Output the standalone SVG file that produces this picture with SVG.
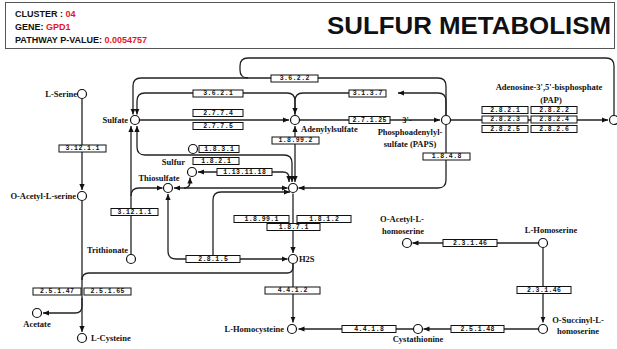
<svg xmlns="http://www.w3.org/2000/svg" width="617" height="349" viewBox="0 0 617 349">
<defs>
<marker id="ah" viewBox="0 0 6 6" refX="6" refY="3" markerWidth="6" markerHeight="6" markerUnits="userSpaceOnUse" orient="auto-start-reverse"><path d="M0,0.4 L6,3 L0,5.6 z" fill="#111"/></marker>
</defs>
<style>
.hdr{font-family:"Liberation Sans",Arial,sans-serif;font-weight:bold;font-size:9px;fill:#111}
.red{fill:#e8141c}
.title{font-family:"Liberation Sans",Arial,sans-serif;font-weight:bold;font-size:24px;fill:#111}
.n circle{fill:#fff;stroke:#111;stroke-width:1.2}
.lbl{font-family:"Liberation Serif","Times New Roman",serif;font-weight:bold;font-size:8.5px;fill:#111}
.e rect{fill:#fff;stroke:#111;stroke-width:1}
.e text{font-family:"Liberation Mono","Courier New",monospace;font-size:6.5px;font-weight:bold;letter-spacing:0.4px;text-anchor:middle;fill:#111}
.c path{fill:none;stroke:#222;stroke-width:1.3}
.a{marker-end:url(#ah)}
.b{marker-start:url(#ah);marker-end:url(#ah)}
</style>
<rect width="617" height="349" fill="#fff"/>
<g id="header">
<rect x="5.5" y="2.5" width="609" height="46" fill="none" stroke="#555" stroke-width="1"/>
<text class="hdr" x="15" y="17">CLUSTER : <tspan class="red">04</tspan></text>
<text class="hdr" x="15" y="30">GENE:  <tspan class="red">GPD1</tspan></text>
<text class="hdr" x="15" y="43">PATHWAY P-VALUE:  <tspan class="red">0.0054757</tspan></text>
<text class="title" x="327" y="34" textLength="284" lengthAdjust="spacingAndGlyphs">SULFUR METABOLISM</text>
</g>
<g id="connectors" class="c">
<path class="a" d="M82,99 V190"/>
<path class="a" d="M82,201 V332"/>
<path class="a" d="M82,298 V306 Q82,313 75,313 H43"/>
<path d="M293,264 V267 Q293,273 287,273 H89 Q82,273 82,280"/>
<path class="a" d="M293,264 V322.5"/>
<path class="a" d="M413,329 H298.5"/>
<path class="a" d="M538,329 H423.5"/>
<path class="a" d="M543,248 V322.5"/>
<path class="a" d="M538,243 H412.5"/>
<path class="a" d="M140,120 H289"/>
<path class="a" d="M300,120 H440"/>
<path class="a" d="M451,120 H608"/>
<path class="a" d="M446,115 V86 Q446,78 438,78 H141 Q133,78 133,86 V114.5"/>
<path d="M614,115 V66 Q614,58 606,58 H248 Q240,58 240,66 V70 Q240,78 248,78"/>
<path class="a" d="M295,115 V101 Q295,93 287,93 H145 Q137,93 137,101 V114.5"/>
<path class="a" d="M446,115 V101 Q446,93 438,93 H398"/>
<path class="a" d="M349,93 H303 Q295,93 295,101 V114"/>
<path class="b" d="M295,126 V182"/>
<path class="b" d="M137,126 V147 Q137,155 145,155 H284 Q292,155 292,163 V182"/>
<path class="b" d="M198,172 H283 Q289,172 289,178 V182"/>
<path class="b" d="M174,188 H287.5"/>
<path class="a" d="M184,188 Q190,188 190,182 V177.5"/>
<path class="a" d="M131,254 V126"/>
<path class="a" d="M131,196 Q131,188 139,188 H162.5"/>
<path class="b" d="M168,194 V251 Q168,259 176,259 H287.5"/>
<path class="a" d="M213,259 V200 Q213,192 221,192 H290"/>
<path class="a" d="M293,193.5 V253"/>
<path class="a" d="M446,125 V180 Q446,188 438,188 H298.5"/>
</g>
<g id="e-3.12.1.1-a" class="e"><rect x="59" y="145" width="47" height="7"/><text x="82.7" y="150.3">3.12.1.1</text></g>
<g id="e-3.6.2.2" class="e"><rect x="271" y="75" width="47" height="7"/><text x="294.7" y="80.3">3.6.2.2</text></g>
<g id="e-3.6.2.1" class="e"><rect x="193" y="90" width="50" height="7"/><text x="218.2" y="95.3">3.6.2.1</text></g>
<g id="e-2.7.7.4" class="e"><rect x="193" y="109.5" width="50" height="7"/><text x="218.2" y="114.8">2.7.7.4</text></g>
<g id="e-2.7.7.5" class="e"><rect x="193" y="122.5" width="50" height="7"/><text x="218.2" y="127.8">2.7.7.5</text></g>
<g id="e-3.1.3.7" class="e"><rect x="349" y="90" width="37" height="7"/><text x="367.7" y="95.3">3.1.3.7</text></g>
<g id="e-2.7.1.25" class="e"><rect x="349" y="116.5" width="41" height="7"/><text x="369.7" y="121.8">2.7.1.25</text></g>
<g id="e-1.8.99.2" class="e"><rect x="272" y="137" width="47" height="7"/><text x="295.7" y="142.3">1.8.99.2</text></g>
<g id="e-1.8.3.1" class="e"><rect x="199" y="145.5" width="40" height="7"/><text x="219.2" y="150.8">1.8.3.1</text></g>
<g id="e-1.8.2.1" class="e"><rect x="193" y="157.5" width="46" height="7"/><text x="216.2" y="162.8">1.8.2.1</text></g>
<g id="e-1.13.11.18" class="e"><rect x="217" y="168.5" width="55" height="7"/><text x="244.7" y="173.8">1.13.11.18</text></g>
<g id="e-2.8.2.1" class="e"><rect x="482" y="106.5" width="46" height="7"/><text x="505.2" y="111.8">2.8.2.1</text></g>
<g id="e-2.8.2.2" class="e"><rect x="531" y="106.5" width="46" height="7"/><text x="554.2" y="111.8">2.8.2.2</text></g>
<g id="e-2.8.2.3" class="e"><rect x="482" y="116" width="46" height="7"/><text x="505.2" y="121.3">2.8.2.3</text></g>
<g id="e-2.8.2.4" class="e"><rect x="531" y="116" width="46" height="7"/><text x="554.2" y="121.3">2.8.2.4</text></g>
<g id="e-2.8.2.5" class="e"><rect x="482" y="125.5" width="46" height="7"/><text x="505.2" y="130.8">2.8.2.5</text></g>
<g id="e-2.8.2.6" class="e"><rect x="531" y="125.5" width="46" height="7"/><text x="554.2" y="130.8">2.8.2.6</text></g>
<g id="e-1.8.4.8" class="e"><rect x="423" y="153" width="47" height="7"/><text x="446.7" y="158.3">1.8.4.8</text></g>
<g id="e-3.12.1.1-b" class="e"><rect x="111" y="208.5" width="47" height="7"/><text x="134.7" y="213.8">3.12.1.1</text></g>
<g id="e-1.8.99.1" class="e"><rect x="234" y="215.5" width="55" height="7"/><text x="261.7" y="220.8">1.8.99.1</text></g>
<g id="e-1.8.1.2" class="e"><rect x="297" y="215.5" width="54" height="7"/><text x="324.2" y="220.8">1.8.1.2</text></g>
<g id="e-1.8.7.1" class="e"><rect x="267" y="223.5" width="53" height="7"/><text x="293.7" y="228.8">1.8.7.1</text></g>
<g id="e-2.8.1.5" class="e"><rect x="186" y="255.5" width="54" height="7"/><text x="213.2" y="260.8">2.8.1.5</text></g>
<g id="e-2.5.1.47" class="e"><rect x="33" y="288" width="48" height="7"/><text x="57.2" y="293.3">2.5.1.47</text></g>
<g id="e-2.5.1.65" class="e"><rect x="84" y="288" width="47" height="7"/><text x="107.7" y="293.3">2.5.1.65</text></g>
<g id="e-4.4.1.2" class="e"><rect x="265" y="287" width="55" height="7"/><text x="292.7" y="292.3">4.4.1.2</text></g>
<g id="e-4.4.1.8" class="e"><rect x="342" y="325.5" width="54" height="7"/><text x="369.2" y="330.8">4.4.1.8</text></g>
<g id="e-2.5.1.48" class="e"><rect x="451" y="325.5" width="53" height="7"/><text x="477.7" y="330.8">2.5.1.48</text></g>
<g id="e-2.3.1.46-a" class="e"><rect x="443" y="239.5" width="54" height="7"/><text x="470.2" y="244.8">2.3.1.46</text></g>
<g id="e-2.3.1.46-b" class="e"><rect x="517" y="286.5" width="54" height="7"/><text x="544.2" y="291.8">2.3.1.46</text></g>
<g id="n-lserine" class="n"><circle cx="82" cy="94" r="4.5"/><text class="lbl" x="77" y="97" text-anchor="end">L-Serine</text></g>
<g id="n-sulfate" class="n"><circle cx="135" cy="120" r="4.5"/><text class="lbl" x="128" y="123" text-anchor="end">Sulfate</text></g>
<g id="n-aps" class="n"><circle cx="295" cy="120" r="4.5"/><text class="lbl" x="301" y="132">Adenylylsulfate</text></g>
<g id="n-paps" class="n"><circle cx="446" cy="120" r="4.5"/><text class="lbl" text-anchor="middle"><tspan x="407" y="123">3'-</tspan><tspan x="410" y="135">Phosphoadenylyl-</tspan><tspan x="410" y="147">sulfate (PAPS)</tspan></text></g>
<g id="n-pap" class="n"><circle cx="614" cy="120" r="4.5"/><text class="lbl" text-anchor="middle"><tspan x="549" y="90">Adenosine-3',5'-bisphosphate</tspan><tspan x="551" y="103">(PAP)</tspan></text></g>
<g id="n-oas" class="n"><circle cx="82" cy="196" r="4.5"/><text class="lbl" x="76" y="199" text-anchor="end">O-Acetyl-L-serine</text></g>
<g id="n-sulfur" class="n"><circle cx="192" cy="172" r="4.5"/><text class="lbl" x="185" y="165" text-anchor="end">Sulfur</text></g>
<g id="n-thiosulfate" class="n"><circle cx="168" cy="188" r="4.5"/><text class="lbl" x="159" y="181" text-anchor="middle">Thiosulfate</text></g>
<g id="n-sulfite" class="n"><circle cx="293" cy="188" r="4.5"/></g>
<g id="n-c1831" class="n"><circle cx="193" cy="149" r="4.5"/></g>
<g id="n-trithionate" class="n"><circle cx="131" cy="259" r="4.5"/><text class="lbl" x="128" y="253" text-anchor="end">Trithionate</text></g>
<g id="n-h2s" class="n"><circle cx="293" cy="259" r="4.5"/><text class="lbl" x="299" y="262">H2S</text></g>
<g id="n-acetate" class="n"><circle cx="37" cy="313" r="4.5"/><text class="lbl" x="37" y="327" text-anchor="middle">Acetate</text></g>
<g id="n-lcys" class="n"><circle cx="82" cy="338" r="4.5"/><text class="lbl" x="91" y="341">L-Cysteine</text></g>
<g id="n-lhcy" class="n"><circle cx="292" cy="329" r="4.5"/><text class="lbl" x="284" y="332" text-anchor="end">L-Homocysteine</text></g>
<g id="n-cysta" class="n"><circle cx="418" cy="329" r="4.5"/><text class="lbl" x="418" y="342" text-anchor="middle">Cystathionine</text></g>
<g id="n-osh" class="n"><circle cx="543" cy="329" r="4.5"/><text class="lbl" text-anchor="middle"><tspan x="578" y="323">O-Succinyl-L-</tspan><tspan x="578" y="334">homoserine</tspan></text></g>
<g id="n-lhser" class="n"><circle cx="543" cy="243" r="4.5"/><text class="lbl" x="551" y="233" text-anchor="middle">L-Homoserine</text></g>
<g id="n-oah" class="n"><circle cx="407" cy="243" r="4.5"/><text class="lbl" text-anchor="middle"><tspan x="402" y="222">O-Acetyl-L-</tspan><tspan x="403" y="234">homoserine</tspan></text></g>
</svg>
